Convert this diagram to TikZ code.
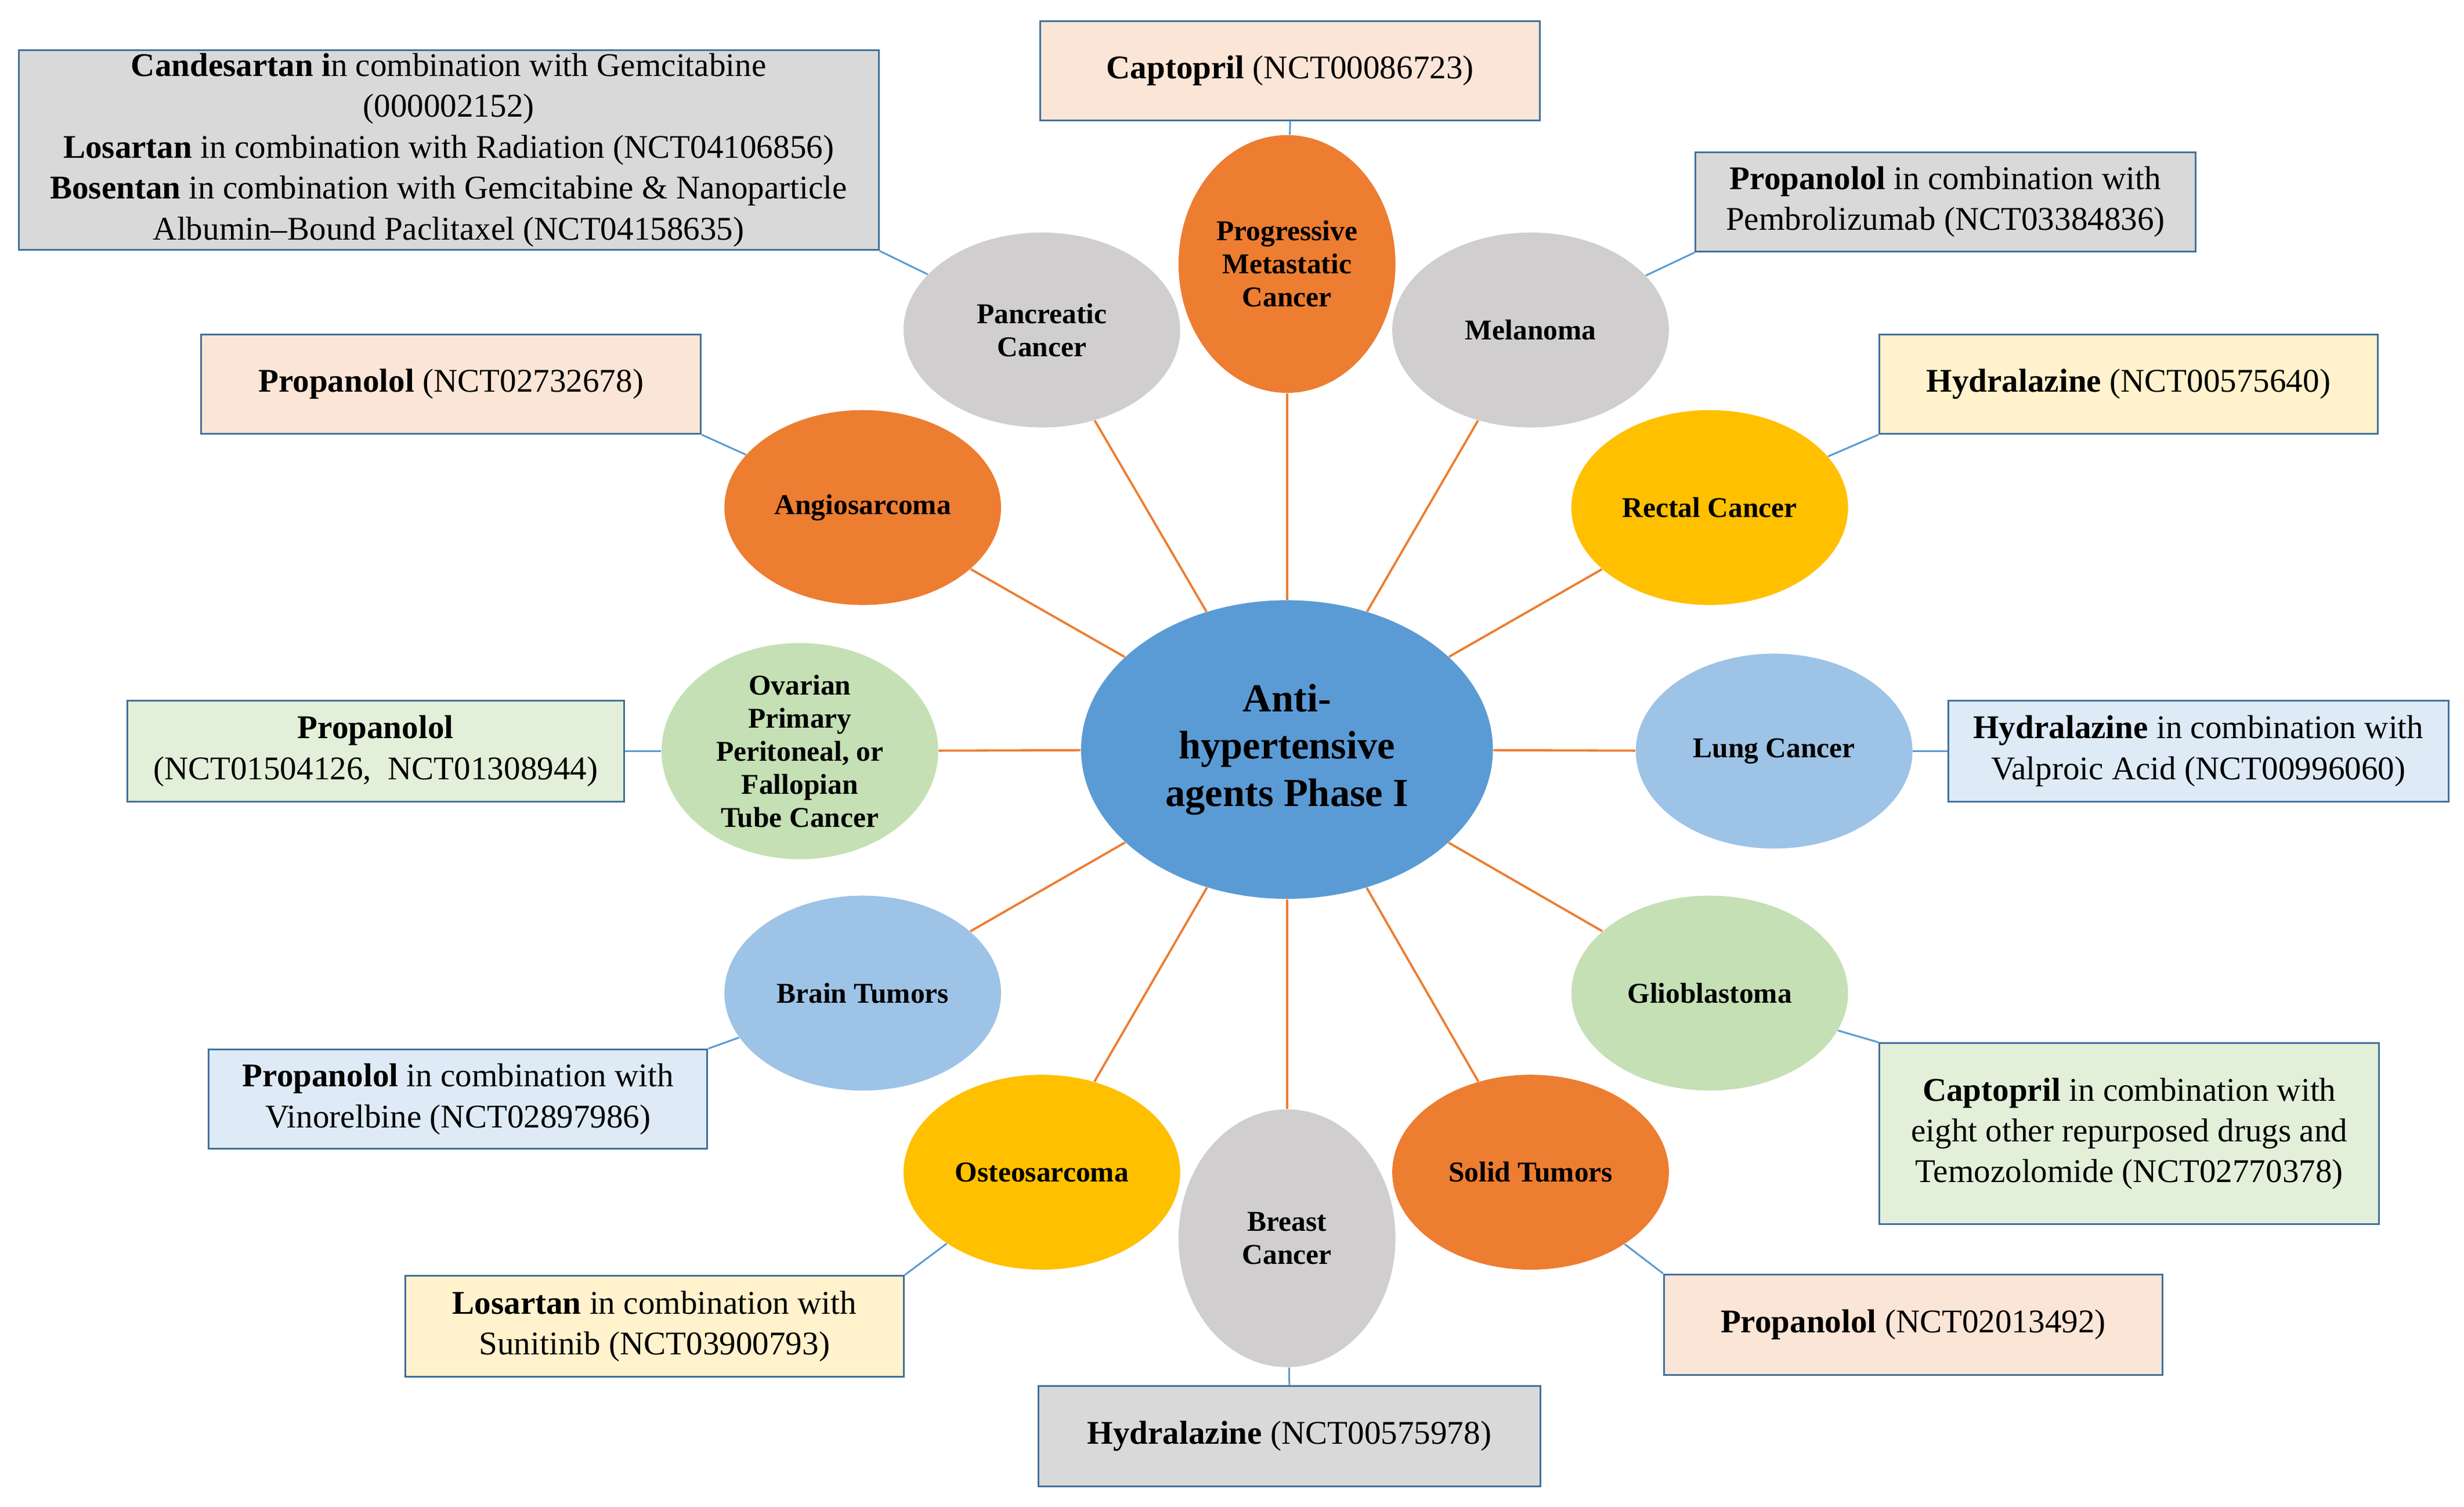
\documentclass[tikz,border=0pt]{standalone}
\usepackage{fontspec}
\setmainfont{Liberation Serif}
\usetikzlibrary{shapes.geometric}
\definecolor{cor}{HTML}{ED7D31}
\definecolor{cgr}{HTML}{D0CECE}
\definecolor{cye}{HTML}{FFC000}
\definecolor{cgn}{HTML}{C5E0B4}
\definecolor{clb}{HTML}{9DC3E6}
\definecolor{cmid}{HTML}{5B9BD5}
\definecolor{bpe}{HTML}{FBE5D6}
\definecolor{bgr}{HTML}{D9D9D9}
\definecolor{bye}{HTML}{FFF2CC}
\definecolor{bgn}{HTML}{E2F0D9}
\definecolor{bbl}{HTML}{DEEBF7}
\definecolor{bord}{HTML}{41719C}
\begin{document}
\begin{tikzpicture}[x=0.025cm,y=-0.025cm,
 ell/.style={ellipse,draw=none,inner sep=0pt,minimum width=4.4cm,minimum height=3.1cm,align=center,font=\fontsize{13}{15}\selectfont\bfseries},
 vell/.style={ell,minimum width=3.45cm,minimum height=4.1cm},
 box/.style={draw=bord,line width=0.8pt,align=center,inner sep=0pt,font=\fontsize{15}{18.5}\selectfont},
 ol/.style={draw=cor,line width=1pt},
 bl/.style={draw=cmid,line width=0.8pt}]
\useasboundingbox (0,0) rectangle (1568,959);
\node[ellipse,fill=cmid,minimum width=6.55cm,minimum height=4.75cm,inner sep=0pt,align=center,font=\fontsize{18}{21.5}\selectfont\bfseries] (c) at (819,477) {Anti-\\hypertensive\\agents Phase I};
\node[vell,fill=cor] (prog) at (819,168) {Progressive\\Metastatic\\Cancer};
\node[ell,fill=cgr] (pan) at (663,210) {Pancreatic\\Cancer};
\node[ell,fill=cgr] (mel) at (974,210) {Melanoma};
\node[ell,fill=cor] (ang) at (549,323) {Angiosarcoma};
\node[ell,fill=cye] (rec) at (1088,323) {Rectal Cancer};
\node[ell,fill=cgn] (ova) at (509,478) {Ovarian\\Primary\\Peritoneal, or\\Fallopian\\Tube Cancer};
\node[ell,fill=clb] (lun) at (1129,478) {Lung Cancer};
\node[ell,fill=clb] (bra) at (549,632) {Brain Tumors};
\node[ell,fill=cgn] (gli) at (1088,632) {Glioblastoma};
\node[ell,fill=cye] (ost) at (663,746) {Osteosarcoma};
\node[ell,fill=cor] (sol) at (974,746) {Solid Tumors};
\node[vell,fill=cgr] (bre) at (819,788) {Breast\\Cancer};
\foreach \n in {prog,pan,mel,ang,rec,ova,lun,bra,gli,ost,sol,bre} \draw[ol] (c) -- (\n);
\node[box,fill=bpe,minimum width=7.95cm,minimum height=1.58cm] (b1) at (821,45) {\textbf{Captopril} (NCT00086723)};
\node[box,fill=bgr,minimum width=13.68cm,minimum height=3.18cm] (b2) at (285.5,95.5) {\textbf{Candesartan i}n combination with Gemcitabine\\(000002152)\\\textbf{Losartan} in combination with Radiation (NCT04106856)\\\textbf{Bosentan} in combination with Gemcitabine \& Nanoparticle\\Albumin–Bound Paclitaxel (NCT04158635)};
\node[box,fill=bgr,minimum width=7.95cm,minimum height=1.58cm] (b3) at (1238,128.5) {\textbf{Propanolol} in combination with\\Pembrolizumab (NCT03384836)};
\node[box,fill=bpe,minimum width=7.95cm,minimum height=1.58cm] (b4) at (287,244.5) {\textbf{Propanolol} (NCT02732678)};
\node[box,fill=bye,minimum width=7.93cm,minimum height=1.58cm] (b5) at (1354.5,244.5) {\textbf{Hydralazine} (NCT00575640)};
\node[box,fill=bgn,minimum width=7.9cm,minimum height=1.6cm] (b6) at (239,478) {\textbf{Propanolol}\\(NCT01504126,\ \ NCT01308944)};
\node[box,fill=bbl,minimum width=7.95cm,minimum height=1.6cm] (b7) at (1399,478) {\textbf{Hydralazine} in combination with\\Valproic Acid (NCT00996060)};
\node[box,fill=bbl,minimum width=7.93cm,minimum height=1.58cm] (b8) at (291.5,699.5) {\textbf{Propanolol} in combination with\\Vinorelbine (NCT02897986)};
\node[box,fill=bgn,minimum width=7.95cm,minimum height=2.88cm] (b9) at (1355,721.5) {\textbf{Captopril} in combination with\\eight other repurposed drugs and\\Temozolomide (NCT02770378)};
\node[box,fill=bye,minimum width=7.93cm,minimum height=1.6cm] (b10) at (416.5,844) {\textbf{Losartan} in combination with\\Sunitinib (NCT03900793)};
\node[box,fill=bpe,minimum width=7.93cm,minimum height=1.6cm] (b11) at (1217.5,843) {\textbf{Propanolol} (NCT02013492)};
\node[box,fill=bgr,minimum width=7.98cm,minimum height=1.6cm] (b12) at (820.5,914) {\textbf{Hydralazine} (NCT00575978)};
\draw[bl] (b1.south) -- (prog);
\draw[bl] (b2.south east) -- (pan);
\draw[bl] (b3.south west) -- (mel);
\draw[bl] (b4.south east) -- (ang);
\draw[bl] (b5.south west) -- (rec);
\draw[bl] (b6.east) -- (ova);
\draw[bl] (b7.west) -- (lun);
\draw[bl] (b8.north east) -- (bra);
\draw[bl] (b9.north west) -- (gli);
\draw[bl] (b10.north east) -- (ost);
\draw[bl] (b11.north west) -- (sol);
\draw[bl] (b12.north) -- (bre);
\end{tikzpicture}
\end{document}
